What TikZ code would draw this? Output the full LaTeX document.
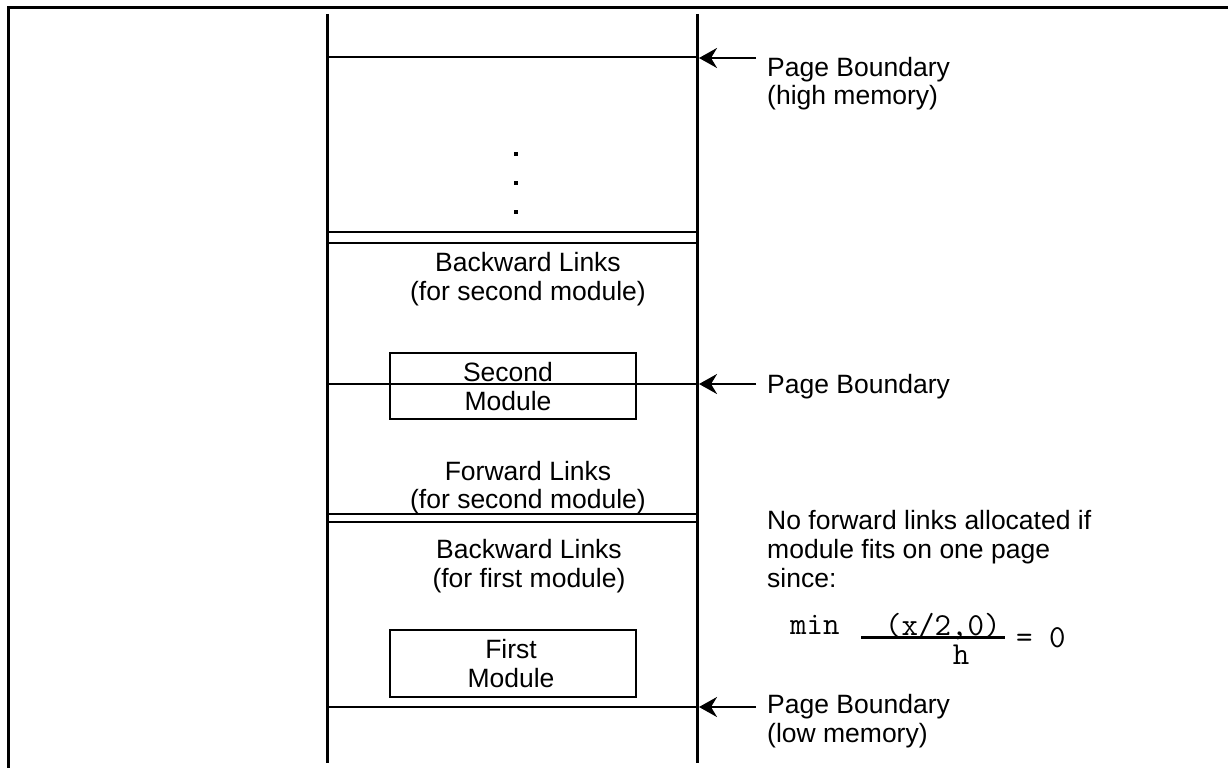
\documentclass[tikz,border=0pt]{standalone}
\usepackage{fontspec}
\setmainfont{Liberation Sans}
\usetikzlibrary{arrows.meta}
\begin{document}
\begin{tikzpicture}[x=1pt,y=-1pt,
  frameline/.style={line width=2.8pt},
  colline/.style={line width=3pt},
  hline/.style={line width=2.8pt},
  thinline/.style={line width=2.3pt},
  modbox/.style={draw,line width=2.8pt,fill=none},
  lbl/.style={inner sep=0pt,anchor=base,font=\fontsize{26.5}{30}\selectfont},
  lblw/.style={inner sep=0pt,anchor=base west,font=\fontsize{26.5}{30}\selectfont},
  mono/.style={inner sep=0pt,anchor=base west,font=\ttfamily\fontsize{32}{36}\selectfont},
  ptr/.style={line width=2.6pt,-{Stealth[length=18pt,width=20pt,inset=6pt]}},
  dot/.style={fill=black,inner sep=0pt,minimum size=3.5pt}]
\useasboundingbox (0,0) rectangle (1228,768);
% outer frame
\draw[frameline] (1228,7.5) -- (8.7,7.5) -- (8.7,768);
% column
\coordinate (cl-top) at (327,14);
\coordinate (cl-bot) at (327,763);
\coordinate (cr-top) at (697,14);
\coordinate (cr-bot) at (697,763);
\draw[colline] (cl-top) -- (cl-bot);
\draw[colline] (cr-top) -- (cr-bot);
% page boundaries
\coordinate (pbH-l) at (327,57);
\coordinate (pbH-r) at (697,57);
\coordinate (pbM-l) at (327,384);
\coordinate (pbM-r) at (697,384);
\coordinate (pbL-l) at (327,707);
\coordinate (pbL-r) at (697,707);
\draw[hline] (pbH-l) -- (pbH-r);
\draw[hline] (pbL-l) -- (pbL-r);
% double lines
\coordinate (d1a-l) at (327,232); \coordinate (d1a-r) at (697,232);
\coordinate (d1b-l) at (327,243); \coordinate (d1b-r) at (697,243);
\coordinate (d2a-l) at (327,514); \coordinate (d2a-r) at (697,514);
\coordinate (d2b-l) at (327,522); \coordinate (d2b-r) at (697,522);
\draw[hline] (d1a-l) -- (d1a-r);
\draw[hline] (d1b-l) -- (d1b-r);
\draw[hline] (d2a-l) -- (d2a-r);
\draw[hline] (d2b-l) -- (d2b-r);
% dots
\node[dot] (dt1) at (516,154) {};
\node[dot] (dt2) at (516,183) {};
\node[dot] (dt3) at (516,212) {};
% second module box
\draw[modbox] (390,353) rectangle (636,419);
\draw[thinline] (pbM-l) -- (pbM-r);
\node[lbl] (sm1) at (508,381) {Second};
\node[lbl] (sm2) at (508,410) {Module};
% first module box
\draw[modbox] (390,630) rectangle (636,697);
\node[lbl] (fm1) at (511,658) {First};
\node[lbl] (fm2) at (511,687) {Module};
% region labels
\node[lbl] (bl2a) at (528,271) {Backward Links};
\node[lbl] (bl2b) at (528,300) {(for second module)};
\node[lbl] (fl2a) at (528,480) {Forward Links};
\node[lbl] (fl2b) at (528,508) {(for second module)};
\node[lbl] (bl1a) at (529,558) {Backward Links};
\node[lbl] (bl1b) at (529,587) {(for first module)};
% right labels and arrows
\node[lblw] (pbH1) at (767,76) {Page Boundary};
\node[lblw] (pbH2) at (767,104) {(high memory)};
\node[lblw] (pbM1) at (767,393) {Page Boundary};
\node[lblw] (pbL1) at (767,713) {Page Boundary};
\node[lblw] (pbL2) at (767,742) {(low memory)};
\coordinate (aH) at (756,58);
\coordinate (aM) at (756,384);
\coordinate (aL) at (756,707);
\coordinate (tH) at (699,58);
\coordinate (tM) at (699,384);
\coordinate (tL) at (699,707);
\draw[ptr] (aH) -- (tH);
\draw[ptr] (aM) -- (tM);
\draw[ptr] (aL) -- (tL);
% note
\node[lblw] (n1) at (767,529) {No forward links allocated if};
\node[lblw] (n2) at (767,558) {module fits on one page};
\node[lblw] (n3) at (767,587) {since:};
% formula
\node[mono] (fmin) at (790,634) {min};
\node[mono] (fnum) at (885,635) {(x/2,0)};
\coordinate (fr-l) at (861,637.5);
\coordinate (fr-r) at (1005,637.5);
\draw[hline] (fr-l) -- (fr-r);
\node[mono,anchor=base] (fden) at (961,664) {h};
\node[mono] (feq) at (1016,647) {= 0};
\end{tikzpicture}
\end{document}
